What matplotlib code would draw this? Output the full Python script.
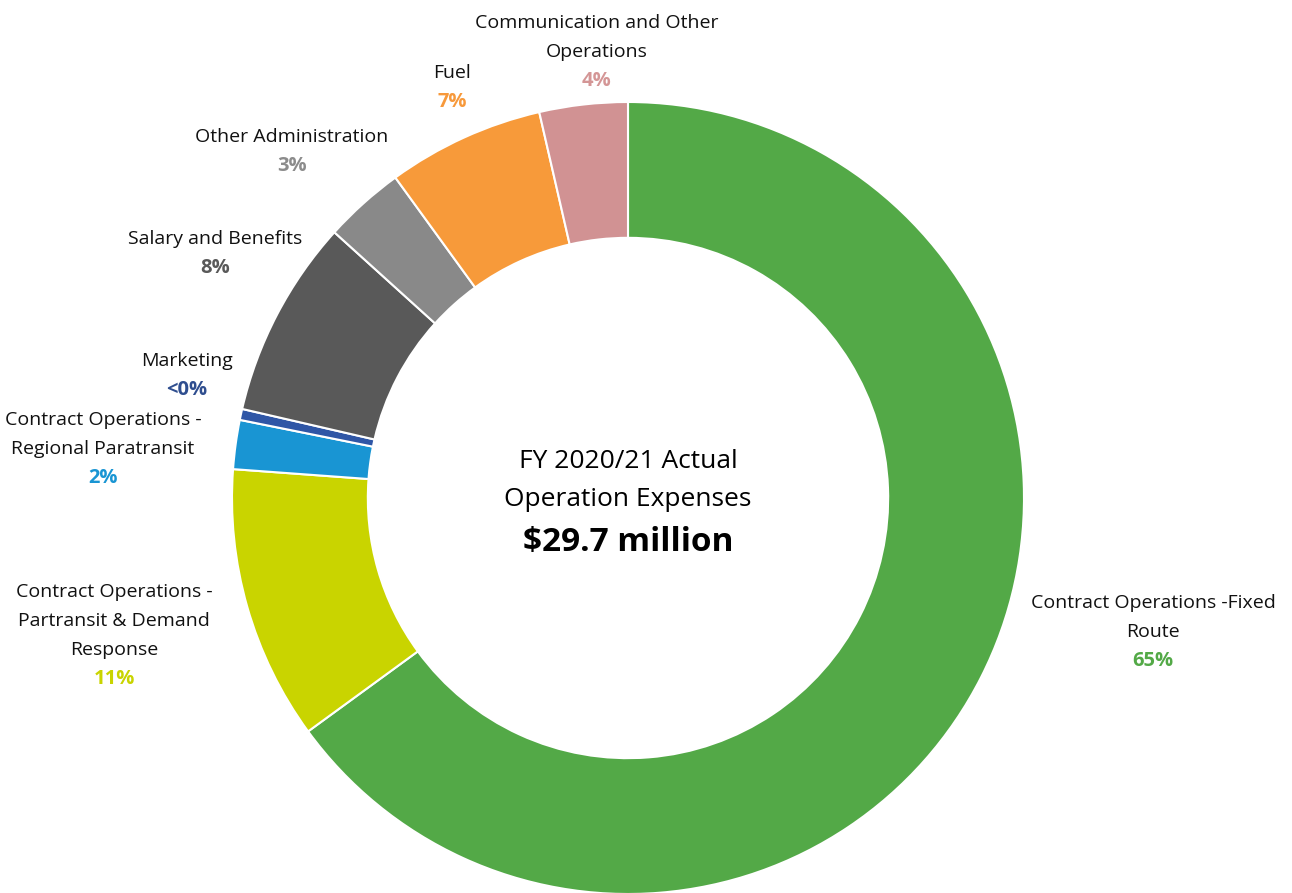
import matplotlib.pyplot as plt

categories = ['Contract Operations -Fixed\nRoute',
              'Contract Operations -\nPartransit & Demand\nResponse',
              'Contract Operations -\nRegional Paratransit',
              'Marketing',
              'Salary and Benefits',
              'Other Administration',
              'Fuel',
              'Communication and Other\nOperations']
shares = [65.0, 11.2, 2.0, 0.45, 8.1, 3.3, 6.4, 3.6]
pct_labels = ['65%', '11%', '2%', '<0%', '8%', '3%', '7%', '4%']
colors = ['#53A947', '#C9D400', '#1995D3', '#2F56A6',
          '#595959', '#898989', '#F79A3A', '#D19293']
pct_colors = ['#53A947', '#C9D400', '#1995D3', '#2F4E8F',
              '#595959', '#8C8C8C', '#F7993B', '#D49696']

plt.rcParams['font.family'] = ['Open Sans', 'DejaVu Sans']

W, H = 1292, 893
fig = plt.figure(figsize=(W / 100, H / 100), dpi=100)
ax = fig.add_axes([0, 0, 1, 1])

# ring centre at pixel (628, 498), outer radius 396 px
cx, cy, R = 628, 498, 396
ax.pie(shares, colors=colors, startangle=90, counterclock=False,
       radius=1.0, wedgeprops=dict(width=0.343, edgecolor='white', linewidth=1.5))
ax.set_xlim(-cx / R, (W - cx) / R)
ax.set_ylim(-(H - cy) / R, cy / R)
ax.set_aspect('equal')
ax.axis('off')


def px(x, y):
    return x / W, 1 - y / H


# label positions (pixels): x centre, y of last line (percent)
label_pos = [(1153, 661), (114, 679), (103, 478), (187, 390),
             (215, 268), (292, 166), (452, 102), (597, 81)]
line_h = 29
for name, pct, pc, (x, y) in zip(categories, pct_labels, pct_colors, label_pos):
    lines = name.split('\n')
    for i, ln in enumerate(lines):
        yy = y - line_h * (len(lines) - i)
        fig.text(*px(x, yy), ln, ha='center', va='center', fontsize=14,
                 color='#111111')
    fig.text(*px(x, y), pct, ha='center', va='center', fontsize=14.5,
             color=pc, fontweight='bold')

fig.text(*px(cx, 462), 'FY 2020/21 Actual', ha='center', va='center', fontsize=19)
fig.text(*px(cx, 499), 'Operation Expenses', ha='center', va='center', fontsize=19)
fig.text(*px(cx, 543), '$29.7 million', ha='center', va='center', fontsize=24,
         fontweight='bold')

fig.savefig('out.png', dpi=100, facecolor='white')
